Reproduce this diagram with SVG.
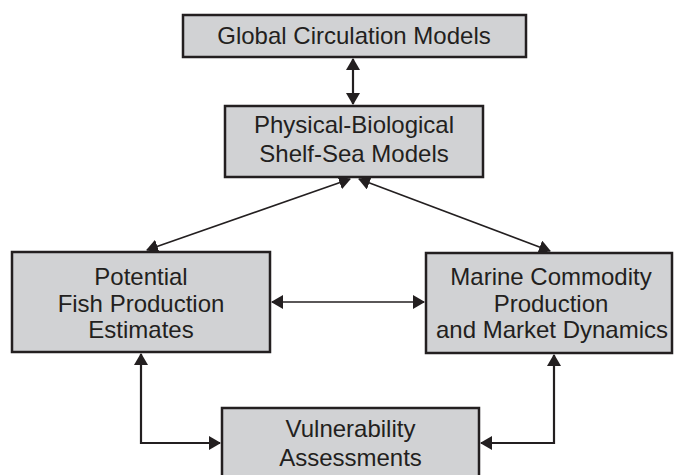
<svg xmlns="http://www.w3.org/2000/svg" width="674" height="475" viewBox="0 0 674 475">
<style>
.box{fill:#d1d2d4;stroke:#231f20;stroke-width:2.5}
.t{font-family:"Liberation Sans",Arial,sans-serif;font-size:24px;fill:#231f20;text-anchor:middle}
.c{fill:none;stroke:#231f20;stroke-width:2.2;marker-start:url(#ah);marker-end:url(#ah)}
.d{stroke-width:1.6}
</style>
<defs>
<marker id="ah" markerUnits="userSpaceOnUse" markerWidth="12" markerHeight="14" viewBox="0 0 12 14" refX="11" refY="7" orient="auto-start-reverse">
<path d="M0,0 L12,7 L0,14 Z" fill="#231f20"/>
</marker>
</defs>
<rect width="674" height="475" fill="#fff"/>
<g id="connectors">
<line class="c" x1="353" y1="59" x2="353" y2="104"/>
<line class="c d" x1="147" y1="250" x2="350" y2="179"/>
<line class="c d" x1="550" y1="251" x2="359" y2="179"/>
<line class="c d" x1="272" y1="302" x2="424" y2="302"/>
<polyline class="c" points="141,354 141,443 220,443"/>
<polyline class="c" points="554,355 554,443 481,443"/>
</g>
<g id="gcm">
<rect class="box" x="183" y="15" width="343" height="42"/>
<text class="t" x="354" y="44">Global Circulation Models</text>
</g>
<g id="pbssm">
<rect class="box" x="225" y="106" width="258" height="71"/>
<text class="t" x="354" y="133">Physical-Biological</text>
<text class="t" x="354" y="161.5">Shelf-Sea Models</text>
</g>
<g id="pfpe">
<rect class="box" x="12" y="252" width="258" height="100"/>
<text class="t" x="141" y="285">Potential</text>
<text class="t" x="141" y="311.5">Fish Production</text>
<text class="t" x="141" y="338">Estimates</text>
</g>
<g id="mcpmd">
<rect class="box" x="426" y="253" width="246" height="100"/>
<text class="t" x="551" y="285">Marine Commodity</text>
<text class="t" x="551" y="311.5">Production</text>
<text class="t" x="552" y="338">and Market Dynamics</text>
</g>
<g id="va">
<rect class="box" x="222" y="408" width="257" height="80"/>
<text class="t" x="350.5" y="437">Vulnerability</text>
<text class="t" x="350.5" y="465.5">Assessments</text>
</g>
</svg>
